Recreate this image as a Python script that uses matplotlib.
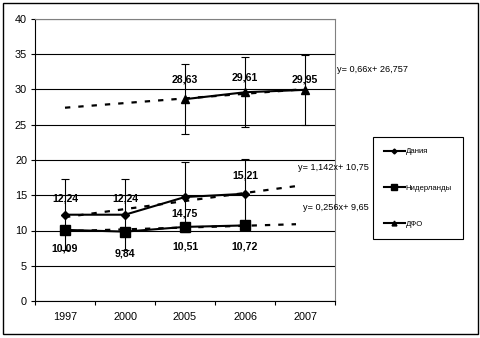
import numpy as np
import matplotlib
matplotlib.use("Agg")
import matplotlib.pyplot as plt
from matplotlib.lines import Line2D
from matplotlib.patches import Rectangle

plt.rcParams['font.family'] = ['Liberation Sans', 'DejaVu Sans']

# ---- data ----
years = ["1997", "2000", "2005", "2006", "2007"]
denmark = [12.24, 12.24, 14.75, 15.21, np.nan]
netherlands = [10.09, 9.84, 10.51, 10.72, np.nan]
dfo = [np.nan, np.nan, 28.63, 29.61, 29.95]
err_denmark = 5.0
err_dfo = 5.0
series_names = ["Дания", "Нидерланды", "ДФО"]
trend_labels = ["y= 1,142x+ 10,75", "y= 0,256x+ 9,65", "y= 0,66x+ 26,757"]

W, H, DPI = 481, 338, 100
fig = plt.figure(figsize=(W / DPI, H / DPI), dpi=DPI)
PX = 72.0 / DPI  # points per pixel

def fx(px):
    return px / W

def fy(py):
    return 1 - py / H

ax = fig.add_axes([fx(35), fy(301), fx(335) - fx(35), fy(19) - fy(301)])

x = np.arange(len(years))
xi = x + 1  # 1-based index used for trendlines

# horizontal gridlines
ax.set_ylim(0, 40)
ax.set_xlim(-0.5, 4.5)
ax.set_yticks(np.arange(0, 41, 5))
ax.yaxis.grid(True, color='black', linewidth=0.8)
ax.set_axisbelow(True)

for s in ['top', 'right']:
    ax.spines[s].set_color('#808080')
    ax.spines[s].set_linewidth(0.8)
for s in ['left', 'bottom']:
    ax.spines[s].set_color('black')
    ax.spines[s].set_linewidth(0.8)

ax.set_xticks(np.arange(-0.5, 4.6, 1.0))
ax.set_xticklabels([])
ax.set_xticks(x, minor=True)
ax.set_xticklabels(years, minor=True)
ax.tick_params(axis='x', which='major', direction='out', length=4 * PX, width=0.8)
ax.tick_params(axis='x', which='minor', length=0, pad=11 * PX, labelsize=7.8)
ax.tick_params(axis='y', direction='out', length=4 * PX, width=0.8, pad=4 * PX, labelsize=7.8)

dash_style = dict(color='black', linewidth=1.6, dashes=(2.4, 3.6), zorder=3)

# trendlines (linear fits on 1-based point index)
def fit(vals):
    v = np.array(vals, dtype=float)
    m = ~np.isnan(v)
    return np.polyfit(xi[m], v[m], 1)

k_d, b_d = fit(denmark)
k_n, b_n = fit(netherlands)
k_f, b_f = fit(dfo)

t = np.linspace(1, 4.85, 50)
ax.plot(t - 1, k_d * t + b_d, **dash_style)
ax.plot(t - 1, k_n * t + b_n, **dash_style)
t2 = np.linspace(1, 5, 50)
ax.plot(t2 - 1, k_f * t2 + b_f, **dash_style)

# error bars
ax.errorbar(x, denmark, yerr=err_denmark, fmt='none', ecolor='black',
            elinewidth=0.8, capsize=2.6, capthick=0.8, zorder=4)
ax.errorbar(x, dfo, yerr=err_dfo, fmt='none', ecolor='black',
            elinewidth=0.8, capsize=2.6, capthick=0.8, zorder=4)

# series
ax.plot(x, denmark, color='black', linewidth=1.5, marker='D', markersize=4, zorder=5)
ax.plot(x, netherlands, color='black', linewidth=1.5, marker='s', markersize=7, zorder=5)
ax.plot(x, dfo, color='black', linewidth=1.5, marker='^', markersize=6, zorder=5)

# value labels
def label(vals, offsets):
    for xv, v, off in zip(x, vals, offsets):
        if np.isnan(v):
            continue
        ax.annotate(f"{v:.2f}".replace('.', ','), (xv, v), xytext=(0, off * PX),
                    textcoords='offset points', ha='center', va='center',
                    fontsize=7.6, fontweight='bold', zorder=6)

label(denmark, [16, 16, -16, 18, 0])
label(netherlands, [-19, -22, -20, -21, 0])
label(dfo, [0, 0, 20, 15, 10])

# trendline equations
fig.text(fx(337), fy(70), trend_labels[2], fontsize=6.6, va='center', ha='left')
fig.text(fx(298), fy(167), trend_labels[0], fontsize=6.6, va='center', ha='left')
fig.text(fx(303), fy(207), trend_labels[1], fontsize=6.6, va='center', ha='left')

# legend
handles = [
    Line2D([], [], color='black', linewidth=1.5, marker='D', markersize=2.5),
    Line2D([], [], color='black', linewidth=1.5, marker='s', markersize=4),
    Line2D([], [], color='black', linewidth=1.5, marker='^', markersize=3.5),
]
leg = fig.legend(handles, series_names, loc='upper left',
                 bbox_to_anchor=(fx(373), fy(137)), bbox_transform=fig.transFigure,
                 fontsize=5.6, frameon=True, fancybox=False, framealpha=1,
                 edgecolor='black', borderpad=1.4, labelspacing=3.7,
                 handlelength=2.7, handletextpad=0.1, borderaxespad=0)
leg.get_frame().set_linewidth(0.8)

# outer border
fig.patches.append(Rectangle((fx(2.5), fy(333.5)), fx(478) - fx(2.5), fy(2.5) - fy(333.5),
                             transform=fig.transFigure, fill=False,
                             edgecolor='black', linewidth=1.0))

fig.savefig("out.png", dpi=DPI)
